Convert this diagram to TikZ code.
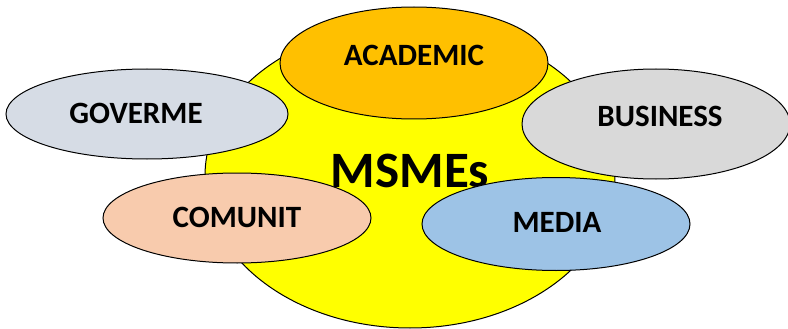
\documentclass[tikz,border=0pt]{standalone}
\usepackage{fontspec}
\setmainfont{Carlito}
\usetikzlibrary{shapes.geometric}
\definecolor{msmeYellow}{HTML}{FFFF00}
\definecolor{msmeAcad}{HTML}{FFC000}
\definecolor{msmeGov}{HTML}{D6DCE5}
\definecolor{msmeBiz}{HTML}{D9D9D9}
\definecolor{msmeCom}{HTML}{F8CBAD}
\definecolor{msmeMedia}{HTML}{9DC3E6}
\begin{document}
\begin{tikzpicture}[x=1pt,y=-1pt,
    blob/.style={ellipse,draw=black,line width=1pt,inner sep=0pt,
                 minimum width=268pt,minimum height=90pt},
    tag/.style={font=\fontsize{31}{36}\selectfont\bfseries,inner sep=0pt}]
  \useasboundingbox (0,0) rectangle (788,329);
  \node[ellipse,draw=black,line width=1pt,fill=msmeYellow,inner sep=0pt,
        minimum width=410pt,minimum height=304pt] (core) at (410,176) {};
  \node[font=\fontsize{51}{56}\selectfont\bfseries,inner sep=0pt] (msme) at (410,171) {MSMEs};
  \node[blob,fill=msmeAcad,minimum height=112pt,
        label={[tag,yshift=8pt]center:ACADEMIC}] (acad) at (414,63) {};
  \node[blob,fill=msmeGov,minimum width=282pt,
        label={[tag,xshift=-11pt,yshift=1pt]center:GOVERME}] (gov) at (147,114) {};
  \node[blob,fill=msmeBiz,minimum height=110pt,
        label={[tag,xshift=4pt,yshift=8pt]center:BUSINESS}] (biz) at (656,124) {};
  \node[blob,fill=msmeCom,
        label={[tag,yshift=1pt]center:COMUNIT}] (com) at (237,218) {};
  \node[blob,fill=msmeMedia,minimum height=93pt,
        label={[tag,xshift=1pt,yshift=2pt]center:MEDIA}] (media) at (556,224) {};
\end{tikzpicture}
\end{document}
